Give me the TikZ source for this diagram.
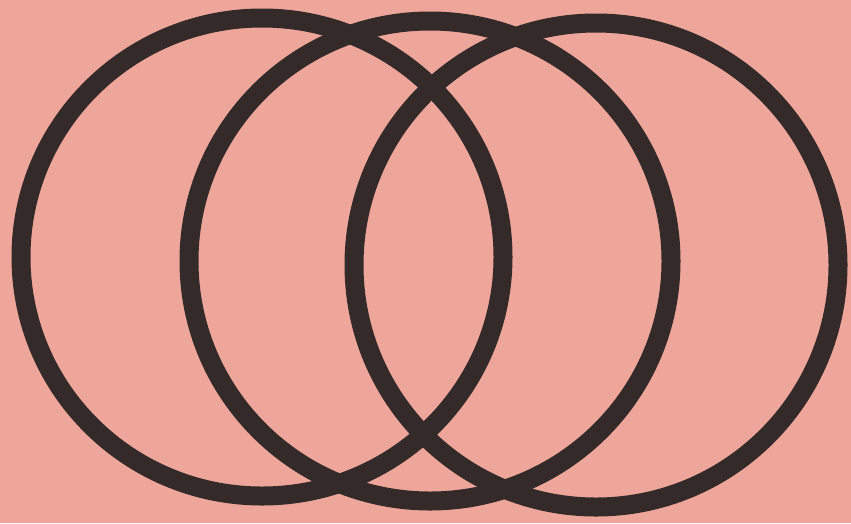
\documentclass[tikz,border=0pt]{standalone}
\definecolor{paperpink}{RGB}{238,166,154}
\definecolor{inkdark}{RGB}{52,42,42}
\begin{document}
\begin{tikzpicture}[x=1pt, y=-1pt]
\fill[paperpink] (0,0) rectangle (851,523);
\useasboundingbox (0,0) rectangle (851,523);
\draw[inkdark, line width=19pt] (262,257) circle[x radius=241, y radius=239];
\draw[inkdark, line width=19pt] (430,261) circle[x radius=241, y radius=240];
\draw[inkdark, line width=19pt] (596,265) circle[x radius=242, y radius=242];
\end{tikzpicture}
\end{document}
